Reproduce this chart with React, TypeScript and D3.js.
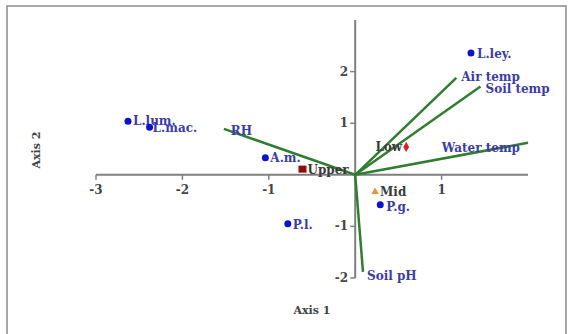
import * as d3 from "d3";

// species scores (blue dots)
const speciesNames = ["L.ley.", "L.lum.", "L.mac.", "A.m.", "P.l.", "P.g."];
const speciesX = [1.34, -2.63, -2.38, -1.04, -0.78, 0.29];
const speciesY = [2.36, 1.04, 0.92, 0.33, -0.95, -0.58];

// site groups
const siteNames = ["Upper", "Low", "Mid"];
const siteX = [-0.61, 0.59, 0.23];
const siteY = [0.11, 0.54, -0.33];

// environmental vectors
const vectorNames = ["RH", "Air temp", "Soil temp", "Water temp", "Soil pH"];
const vectorX = [-1.52, 1.17, 1.45, 2.0, 0.09];
const vectorY = [0.89, 1.88, 1.71, 0.62, -1.88];

const xTicks = [-3, -2, -1, 1];
const yTicks = [-2, -1, 1, 2];

const W = 574;
const H = 334;

const FONT = "'DejaVu Serif', 'Liberation Serif', serif";
const LABEL_BLUE = "#3c3ca8";
const GREEN = "#2f7d2f";
const AXIS = "#7f7f7f";

// label placement (dx, dy, anchor) per item
const speciesLabelPos: [number, number, string][] = [
  [6, 5, "start"],
  [5, 4, "start"],
  [3, 5, "start"],
  [5, 4, "start"],
  [5, 5, "start"],
  [6, 6, "start"],
];
const siteLabelPos: [number, number, string][] = [
  [5, 5, "start"],
  [-4, 4, "end"],
  [5, 4, "start"],
];
const vectorLabelPos: [number, number, string][] = [
  [7, 6, "start"],
  [5, 3, "start"],
  [5, 6, "start"],
  [-8, 9, "end"],
  [4, 8, "start"],
];

export default function App() {
  const x = d3.scaleLinear().domain([-3, 2]).range([96, 528]);
  const y = d3.scaleLinear().domain([-2, 3]).range([278, 20]);
  const x0 = x(0);
  const y0 = y(0);

  const diamond = d3.symbol().type(d3.symbolDiamond).size(30)();
  const triangle = d3.symbol().type(d3.symbolTriangle).size(24)();

  return (
    <svg
      width={W}
      height={H}
      style={{ position: "absolute", left: 0, top: 0, background: "#fff" }}
      fontFamily={FONT}
    >
      <rect x={7} y={6} width={559} height={340} fill="none" stroke="#8a8a8a" strokeWidth={1.5} />

      {/* x axis */}
      <line x1={x(-3)} x2={x(2)} y1={y0} y2={y0} stroke={AXIS} strokeWidth={2} />
      {xTicks.map((t) => (
        <g key={`xt${t}`}>
          <line x1={x(t)} x2={x(t)} y1={y0} y2={y0 + 5} stroke={AXIS} strokeWidth={1.5} />
          <text
            x={x(t)}
            y={y0 + 19}
            textAnchor="middle"
            fontSize={12}
            fontWeight="bold"
            fill="#444"
          >
            {t}
          </text>
        </g>
      ))}

      {/* y axis */}
      <line x1={x0} x2={x0} y1={y(3)} y2={y(-2)} stroke={AXIS} strokeWidth={2} />
      {yTicks.map((t) => (
        <g key={`yt${t}`}>
          <line x1={x0 - 5} x2={x0} y1={y(t)} y2={y(t)} stroke={AXIS} strokeWidth={1.5} />
          <text
            x={x0 - 7}
            y={y(t) + 4}
            textAnchor="end"
            fontSize={12}
            fontWeight="bold"
            fill="#444"
          >
            {t}
          </text>
        </g>
      ))}

      {/* axis titles */}
      <text x={312} y={314} textAnchor="middle" fontSize={11} fontWeight="bold" fill="#444">
        Axis 1
      </text>
      <text
        transform="translate(40,150) rotate(-90)"
        textAnchor="middle"
        fontSize={11}
        fontWeight="bold"
        fill="#444"
      >
        Axis 2
      </text>

      {/* vectors */}
      {vectorNames.map((name, i) => (
        <g key={name}>
          <line
            x1={x0}
            y1={y0}
            x2={x(vectorX[i])}
            y2={y(vectorY[i])}
            stroke={GREEN}
            strokeWidth={2.5}
          />
          <text
            x={x(vectorX[i]) + vectorLabelPos[i][0]}
            y={y(vectorY[i]) + vectorLabelPos[i][1]}
            textAnchor={vectorLabelPos[i][2]}
            fontSize={12}
            fontWeight="bold"
            fill={LABEL_BLUE}
          >
            {name}
          </text>
        </g>
      ))}

      {/* species */}
      {speciesNames.map((name, i) => (
        <g key={name}>
          <circle cx={x(speciesX[i])} cy={y(speciesY[i])} r={3.5} fill="#0a14c8" />
          <text
            x={x(speciesX[i]) + speciesLabelPos[i][0]}
            y={y(speciesY[i]) + speciesLabelPos[i][1]}
            textAnchor={speciesLabelPos[i][2]}
            fontSize={12}
            fontWeight="bold"
            fill={LABEL_BLUE}
          >
            {name}
          </text>
        </g>
      ))}

      {/* sites */}
      {siteNames.map((name, i) => {
        const cx = x(siteX[i]);
        const cy = y(siteY[i]);
        let mark;
        if (i === 0) mark = <rect x={cx - 4} y={cy - 3.5} width={8} height={7} fill="#8b0d0d" />;
        else if (i === 1) mark = <path d={diamond ?? ""} transform={`translate(${cx},${cy})`} fill="#e02020" />;
        else mark = <path d={triangle ?? ""} transform={`translate(${cx},${cy})`} fill="#e8913a" />;
        return (
          <g key={name}>
            {mark}
            <text
              x={cx + siteLabelPos[i][0]}
              y={cy + siteLabelPos[i][1]}
              textAnchor={siteLabelPos[i][2]}
              fontSize={12}
              fontWeight="bold"
              fill="#3a3a3a"
            >
              {name}
            </text>
          </g>
        );
      })}
    </svg>
  );
}
